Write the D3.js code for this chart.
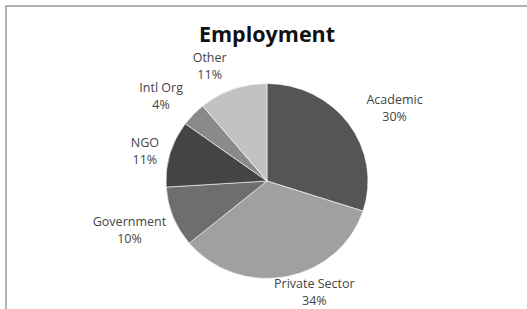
<!DOCTYPE html>
<html>
<head>
<meta charset="utf-8">
<script src="https://cdn.jsdelivr.net/npm/d3@7"></script>
<style>
  body { margin: 0; background: #fff; }
  svg { display: block; }
</style>
</head>
<body>
<div id="chart"></div>
<script>
var width = 527,
    height = 309;

// chart data
var categories = ["Academic", "Private Sector", "Government", "NGO", "Intl Org", "Other"];
var shares = [30, 34, 10, 11, 4, 11];
var sliceColors = ["#555555", "#a0a0a0", "#6e6e6e", "#444444", "#8a8a8a", "#c2c2c2"];
// small hand nudges so labels sit where Excel's best-fit put them
var labelNudge = [[15, 0], [19, -11], [0, 3], [-2, 5], [-9, 0], [-14, 2]];

var datapoints = categories.map(function (c, i) {
    return { label: c, value: shares[i], fill: sliceColors[i], nudge: labelNudge[i] };
});

var svg = d3.select("#chart")
    .append("svg")
    .attr("width", width)
    .attr("height", height);

// outer frame (only top and left edges are visible)
svg.append("rect")
    .attr("x", 6)
    .attr("y", 6)
    .attr("width", width + 20)
    .attr("height", height + 20)
    .attr("fill", "none")
    .attr("stroke", "#9a9a9a")
    .attr("stroke-width", 1.5);

// title
svg.append("text")
    .attr("x", 267)
    .attr("y", 42)
    .attr("text-anchor", "middle")
    .attr("font-family", "'Open Sans', sans-serif")
    .attr("font-weight", "bold")
    .attr("font-size", 21.5)
    .attr("fill", "#111")
    .text("Employment");

var cx = 267, cy = 181, r = 101, squash = 0.965;

var pie = d3.pie()
    .sort(null)
    .value(function (d) { return d.value; });

var arc = d3.arc()
    .innerRadius(0)
    .outerRadius(r);

var arcs = pie(datapoints);

var pieGroup = svg.append("g")
    .attr("transform", "translate(" + cx + "," + cy + ") scale(1," + squash + ")");

pieGroup.selectAll("path")
    .data(arcs)
    .enter()
    .append("path")
    .attr("d", arc)
    .attr("fill", function (d) { return d.data.fill; })
    .attr("stroke", "#fff")
    .attr("stroke-width", 0.6);

// labels: two lines, box pushed just outside the rim along the slice's mid angle
var labels = svg.selectAll("g.label")
    .data(arcs)
    .enter()
    .append("g")
    .attr("class", "label");

labels.append("text")
    .attr("text-anchor", "middle")
    .attr("font-family", "'Open Sans', sans-serif")
    .attr("font-size", 12.5)
    .attr("fill", "#444")
    .each(function (d) {
        var t = d3.select(this);
        t.append("tspan").attr("x", 0).attr("y", -4).text(d.data.label);
        t.append("tspan").attr("x", 0).attr("y", 13).text(d.data.value + "%");
    });

labels.attr("transform", function (d) {
    var box = this.getBBox();
    var mid = (d.startAngle + d.endAngle) / 2;
    var dx = Math.sin(mid), dy = -Math.cos(mid);
    var gap = 10;
    var x = cx + dx * (r + gap) + dx * box.width / 2 + d.data.nudge[0];
    var y = cy + dy * (r + gap) * squash + dy * box.height / 2 + d.data.nudge[1];
    return "translate(" + x + "," + y + ")";
});
</script>
</body>
</html>
